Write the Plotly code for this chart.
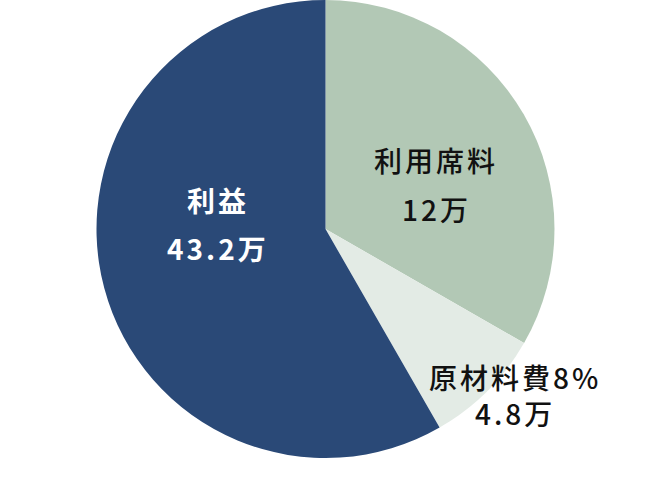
import plotly.graph_objects as go

# slice shares as drawn in the picture (percent of the circle)
labels = ["利用席料", "原材料費", "利益"]
shares = [33.3, 8.4, 58.3]
amounts = ["12万", "4.8万", "43.2万"]
label_suffix = ["", "8%", ""]
colors = ["#b2c8b5", "#e3ebe5", "#2a4977"]
text_colors = ["#111111", "#111111", "#ffffff"]
text_weights = [500, 500, 700]

W, H = 654, 484

fig = go.Figure()
fig.add_trace(go.Pie(
    labels=labels,
    values=shares,
    sort=False,
    direction="clockwise",
    rotation=0,
    marker=dict(colors=colors, line=dict(width=0)),
    textinfo="none",
    hoverinfo="label+percent",
    domain=dict(x=[96.5 / W, 554.5 / W], y=[1 - 458 / H, 1.0]),
    showlegend=False,
))


def spaced(s):
    return '<span style="letter-spacing:3px">%s</span>' % s


# label centres in pixels: (x, y of name line, y of amount line)
# None for the second y means both lines go in one block
label_pos = [(436, 160, 209), (515, 395, None), (218, 200, 248)]

annotations = []
for i, (px, y1, y2) in enumerate(label_pos):
    name = labels[i] + label_suffix[i]
    if y2 is None:
        lines = [(spaced(name) + "<br>" + spaced(amounts[i]), y1)]
    else:
        lines = [(spaced(name), y1), (spaced(amounts[i]), y2)]
    for txt, py in lines:
        annotations.append(dict(
            x=px / W, y=1 - py / H, xref="paper", yref="paper",
            text=txt, align="center",
            showarrow=False, xanchor="center", yanchor="middle",
            font=dict(family="Noto Sans CJK JP", size=28, weight=text_weights[i],
                      color=text_colors[i]),
        ))

fig.update_layout(
    width=W, height=H,
    margin=dict(l=0, r=0, t=0, b=0),
    paper_bgcolor="white",
    plot_bgcolor="white",
    annotations=annotations,
)

# page has a default 8px body margin; drop it so the chart sits at the corner
fig.write_html("out.html", config={"displayModeBar": False},
               post_script="document.body.style.margin='0';")
